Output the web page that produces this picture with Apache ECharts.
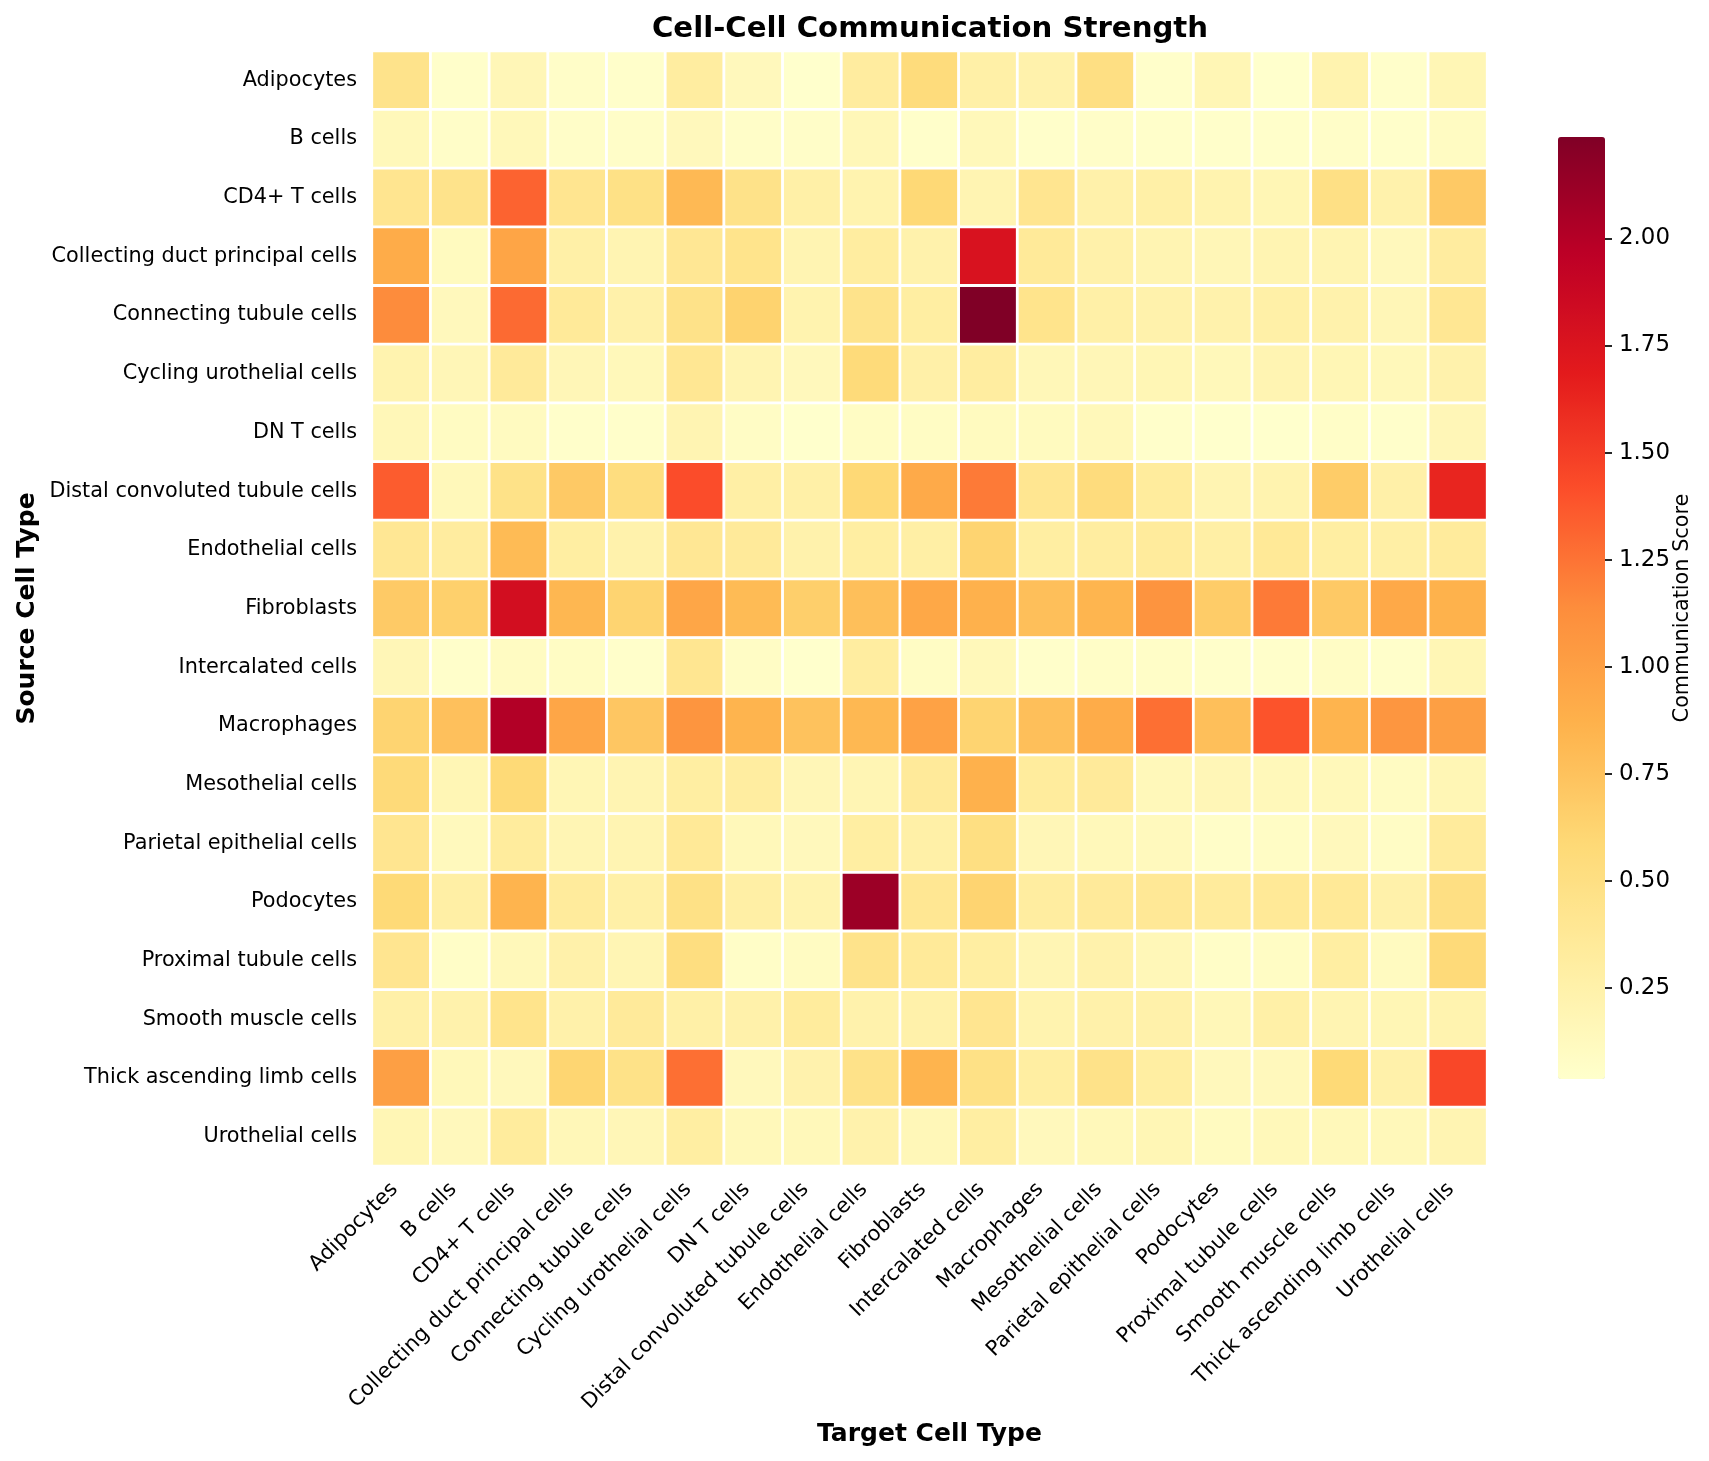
<!DOCTYPE html>
<html>
<head>
<meta charset="utf-8">
<title>Cell-Cell Communication Strength</title>
<script src="https://cdn.jsdelivr.net/npm/echarts@6/dist/echarts.min.js"></script>
<style>
  html, body { margin: 0; padding: 0; background: #fff; }
  #chart { width: 1709px; height: 1461px; }
</style>
</head>
<body>
<div id="chart"></div>
<script>
const cellTypes = ['Adipocytes', 'B cells', 'CD4+ T cells', 'Collecting duct principal cells',
  'Connecting tubule cells', 'Cycling urothelial cells', 'DN T cells', 'Distal convoluted tubule cells',
  'Endothelial cells', 'Fibroblasts', 'Intercalated cells', 'Macrophages', 'Mesothelial cells',
  'Parietal epithelial cells', 'Podocytes', 'Proximal tubule cells', 'Smooth muscle cells',
  'Thick ascending limb cells', 'Urothelial cells'];

// one list per source cell type, same order as cellTypes for the targets
const adipocytes = [0.45, 0.05, 0.17, 0.06, 0.05, 0.31, 0.14, 0.04, 0.32, 0.55, 0.27, 0.24, 0.50, 0.05, 0.18, 0.04, 0.22, 0.05, 0.18];
const bCells = [0.15, 0.06, 0.15, 0.06, 0.06, 0.14, 0.06, 0.06, 0.16, 0.05, 0.15, 0.05, 0.06, 0.05, 0.05, 0.05, 0.06, 0.05, 0.10];
const cd4Cells = [0.42, 0.45, 1.32, 0.42, 0.48, 0.81, 0.46, 0.27, 0.22, 0.59, 0.20, 0.42, 0.25, 0.27, 0.22, 0.18, 0.49, 0.24, 0.70];
const collectingDuct = [0.91, 0.12, 0.96, 0.27, 0.20, 0.39, 0.44, 0.20, 0.31, 0.24, 1.77, 0.36, 0.25, 0.20, 0.17, 0.20, 0.20, 0.14, 0.32];
const connectingTubule = [1.14, 0.14, 1.29, 0.36, 0.25, 0.46, 0.63, 0.22, 0.45, 0.30, 2.237, 0.44, 0.27, 0.24, 0.24, 0.27, 0.24, 0.17, 0.40];
const cyclingUrothelial = [0.22, 0.17, 0.35, 0.17, 0.15, 0.40, 0.20, 0.14, 0.56, 0.26, 0.31, 0.16, 0.17, 0.18, 0.15, 0.20, 0.18, 0.15, 0.24];
const dnTCells = [0.16, 0.10, 0.11, 0.05, 0.05, 0.20, 0.08, 0.04, 0.09, 0.09, 0.12, 0.12, 0.15, 0.05, 0.04, 0.04, 0.07, 0.05, 0.17];
const distalTubule = [1.35, 0.15, 0.47, 0.70, 0.53, 1.42, 0.28, 0.27, 0.59, 0.92, 1.22, 0.41, 0.54, 0.33, 0.20, 0.22, 0.68, 0.26, 1.63];
const endothelial = [0.39, 0.32, 0.80, 0.30, 0.24, 0.39, 0.35, 0.24, 0.30, 0.28, 0.62, 0.30, 0.31, 0.34, 0.28, 0.37, 0.30, 0.28, 0.34];
const fibroblasts = [0.69, 0.65, 1.81, 0.83, 0.62, 0.95, 0.80, 0.66, 0.77, 0.94, 0.87, 0.77, 0.84, 1.085, 0.68, 1.22, 0.70, 0.93, 0.86];
const intercalated = [0.17, 0.05, 0.10, 0.09, 0.05, 0.41, 0.08, 0.04, 0.31, 0.09, 0.15, 0.05, 0.07, 0.07, 0.05, 0.05, 0.08, 0.05, 0.18];
const macrophages = [0.62, 0.76, 2.01, 0.95, 0.72, 1.08, 0.85, 0.75, 0.82, 0.98, 0.62, 0.77, 0.91, 1.27, 0.77, 1.39, 0.85, 1.07, 1.00];
const mesothelial = [0.57, 0.18, 0.58, 0.18, 0.20, 0.30, 0.31, 0.17, 0.19, 0.35, 0.87, 0.33, 0.35, 0.15, 0.17, 0.15, 0.15, 0.10, 0.18];
const parietal = [0.42, 0.13, 0.33, 0.19, 0.20, 0.37, 0.15, 0.14, 0.30, 0.27, 0.51, 0.17, 0.15, 0.13, 0.06, 0.08, 0.14, 0.08, 0.34];
const podocytes = [0.58, 0.28, 0.85, 0.34, 0.27, 0.48, 0.28, 0.22, 2.11, 0.40, 0.62, 0.31, 0.35, 0.38, 0.34, 0.37, 0.37, 0.25, 0.50];
const proximalTubule = [0.42, 0.07, 0.15, 0.25, 0.19, 0.52, 0.07, 0.10, 0.45, 0.36, 0.30, 0.19, 0.24, 0.16, 0.07, 0.09, 0.30, 0.11, 0.57];
const smoothMuscle = [0.26, 0.24, 0.44, 0.25, 0.35, 0.27, 0.25, 0.33, 0.24, 0.25, 0.42, 0.22, 0.25, 0.25, 0.16, 0.27, 0.20, 0.18, 0.22];
const thickLimb = [1.00, 0.15, 0.14, 0.61, 0.47, 1.27, 0.14, 0.23, 0.46, 0.85, 0.48, 0.30, 0.46, 0.30, 0.14, 0.14, 0.58, 0.25, 1.45];
const urothelial = [0.18, 0.14, 0.33, 0.16, 0.17, 0.30, 0.15, 0.15, 0.24, 0.16, 0.30, 0.14, 0.15, 0.18, 0.11, 0.15, 0.15, 0.15, 0.20];

const sourceRows = [adipocytes, bCells, cd4Cells, collectingDuct, connectingTubule, cyclingUrothelial,
  dnTCells, distalTubule, endothelial, fibroblasts, intercalated, macrophages, mesothelial, parietal,
  podocytes, proximalTubule, smoothMuscle, thickLimb, urothelial];

const colorbarTicks = [0.25, 0.5, 0.75, 1, 1.25, 1.5, 1.75, 2];
const scoreMin = 0.037;
const scoreMax = 2.237;
const ylOrRd = ['#ffffcc', '#ffeda0', '#fed976', '#feb24c', '#fd8d3c', '#fc4e2a', '#e31a1c', '#bd0026', '#800026'];

const cells = [];
sourceRows.forEach((row, y) => {
  row.forEach((value, x) => cells.push([x, y, value]));
});

const font = 'DejaVu Sans';
const chart = echarts.init(document.getElementById('chart'), null, { renderer: 'canvas' });

chart.setOption({
  animation: false,
  backgroundColor: '#ffffff',
  title: {
    text: 'Cell-Cell Communication Strength',
    left: 925,
    top: 10,
    textAlign: 'center',
    textStyle: { fontFamily: font, fontSize: 29.2, fontWeight: 'bold', color: '#000' }
  },
  grid: [
    { left: 372, top: 51, width: 1115, height: 1115, outerBoundsMode: 'none' },
    { left: 1558, top: 137, width: 47, height: 942, outerBoundsMode: 'none' }
  ],
  xAxis: [
    {
      type: 'category',
      gridIndex: 0,
      data: cellTypes,
      name: 'Target Cell Type',
      nameLocation: 'middle',
      nameGap: 256,
      nameMoveOverlap: false,
      nameTextStyle: { fontFamily: font, fontSize: 25, fontWeight: 'bold', color: '#000' },
      axisLine: { show: false },
      axisTick: { alignWithLabel: true, length: 7, lineStyle: { color: '#000', width: 1.7 } },
      axisLabel: {
        interval: 0, rotate: 45, align: 'right', verticalAlign: 'bottom', lineHeight: 19, margin: 27,
        fontFamily: font, fontSize: 21, color: '#000'
      },
      splitLine: { show: false }
    },
    { type: 'category', gridIndex: 1, data: [''], show: false }
  ],
  yAxis: [
    {
      type: 'category',
      gridIndex: 0,
      data: cellTypes,
      inverse: true,
      name: 'Source Cell Type',
      nameLocation: 'middle',
      nameRotate: 90,
      nameGap: 332,
      nameMoveOverlap: false,
      nameTextStyle: { fontFamily: font, fontSize: 25, fontWeight: 'bold', color: '#000' },
      axisLine: { show: false },
      axisTick: { alignWithLabel: true, length: 7, lineStyle: { color: '#000', width: 1.7 } },
      axisLabel: { interval: 0, margin: 15, fontFamily: font, fontSize: 20.8, color: '#000' },
      splitLine: { show: false }
    },
    {
      type: 'value',
      gridIndex: 1,
      position: 'right',
      min: scoreMin,
      max: scoreMax,
      name: 'Communication Score',
      nameLocation: 'middle',
      nameRotate: 90,
      nameGap: 67,
      nameMoveOverlap: false,
      nameTextStyle: { fontFamily: font, fontSize: 20.8, color: '#000' },
      axisLine: { show: false },
      splitLine: { show: false },
      axisTick: { show: true, length: 7, customValues: colorbarTicks, lineStyle: { color: '#000', width: 1.7 } },
      axisLabel: {
        margin: 14, fontFamily: font, fontSize: 22.9, color: '#000',
        customValues: colorbarTicks,
        formatter: (v) => v.toFixed(2)
      }
    }
  ],
  visualMap: {
    type: 'continuous',
    seriesIndex: 0,
    min: scoreMin,
    max: scoreMax,
    calculable: false,
    realtime: false,
    hoverLink: false,
    orient: 'vertical',
    left: 1558,
    top: 137,
    padding: 0,
    itemWidth: 47,
    itemHeight: 942,
    text: null,
    showLabel: false,
    inRange: { color: ylOrRd }
  },
  series: [{
    type: 'heatmap',
    xAxisIndex: 0,
    yAxisIndex: 0,
    data: cells,
    progressive: 0,
    itemStyle: { borderColor: '#ffffff', borderWidth: 2.8 },
    emphasis: { disabled: true }
  }]
});
</script>
</body>
</html>
